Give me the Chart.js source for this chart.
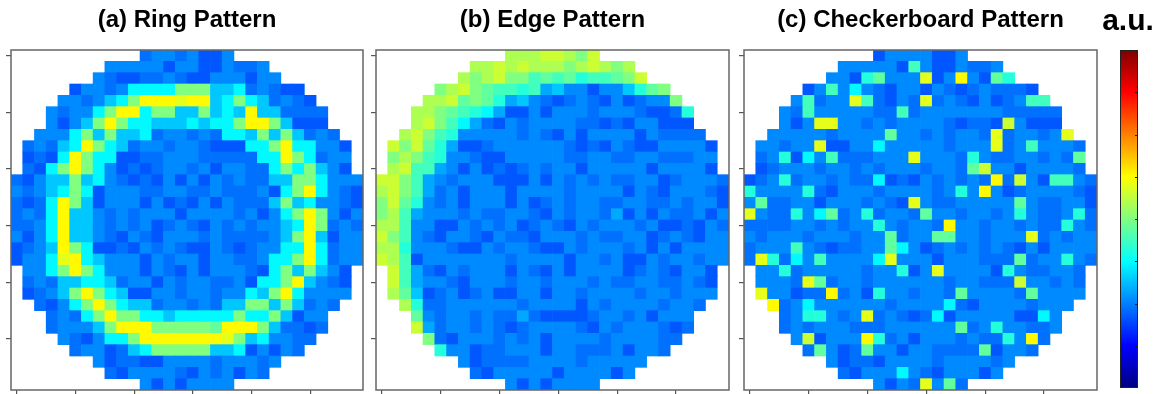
<!DOCTYPE html>
<html lang="en">
<head>
<meta charset="UTF-8">
<title>Wafer Map Patterns</title>
<script src="https://cdn.jsdelivr.net/npm/chart.js"></script>
<style>
  html, body { margin: 0; padding: 0; background: #fff; overflow: hidden; }
  #wrap { position: relative; width: 1162px; height: 394px; }
  #wrap canvas { position: absolute; top: 0; }
</style>
</head>
<body>
<div id="wrap">
  <canvas id="ring" width="364" height="396" style="left:5px"></canvas>
  <canvas id="edge" width="365" height="396" style="left:370px"></canvas>
  <canvas id="checker" width="365" height="396" style="left:738px"></canvas>
  <canvas id="cbar" width="62" height="396" style="left:1097px"></canvas>
</div>

<script>
  // value of each colour code used in the row strings ('.' = no die)
  const LEVELS = {
    '0': 0.21, '1': 0.235, '2': 0.26, '3': 0.29, '4': 0.32, '5': 0.37,
    'a': 0.41, 'b': 0.44, '6': 0.47, '7': 0.50, 'c': 0.545, 'd': 0.575,
    '8': 0.60, '9': 0.63
  };

  const PANEL_TITLES = ['(a) Ring Pattern', '(b) Edge Pattern', '(c) Checkerboard Pattern'];
  const TICK_VALUES = [1, 6, 11, 16, 21, 26];
  const CBAR_TICKS = [0.125, 0.25, 0.375, 0.5, 0.625, 0.75, 0.875];
  const CBAR_LABEL = 'a.u.';

  const RING_ROWS = [
    "...........12212002...........",
    "........22222022002112........",
    ".......2100112100222022.......",
    ".....02212555577744512100.....",
    "....2212457999899457541210....",
    "...212257995774474549441111...",
    "...202479755444545579974000...",
    "..22257474451221215547474121..",
    ".1214597541221221000557955220.",
    ".0105975500112221111155975122.",
    ".1057975201012212022115757420.",
    "102447452101020202121144775222",
    "212457502221122112111205795210",
    "101597402220201020211147452210",
    "121594421212220222212025797202",
    "112594421212012102121224597121",
    "202594421021022212111124794022",
    "012497500102121002101225595122",
    "022589542220212202211255795122",
    ".2257975222021020222105747420.",
    ".1214455412202122112055794210.",
    ".0124797540022122122547952222.",
    "..10257975441221214477474121..",
    "...121579775545555575574022...",
    "...122247999777776999741101...",
    "....2102557999999987452211....",
    ".....12201457777744502021.....",
    ".......2011002222122212.......",
    "........10222210212021........",
    "...........20202222..........."
  ];

  const EDGE_ROWS = [
    "...........cccddc7d...........",
    "........ccdcdccc7cdc7c........",
    ".......c7cd77b6b6abb67d.......",
    ".....7cd76bbab34220224a67.....",
    "....ccd676a342101210201227....",
    "...cc76ba53002022212221001a...",
    "...cd7b53102122221101022000...",
    "..cd7ba222221210202222021111..",
    ".d7d6a30012222221010210022220.",
    ".7c7ba22100222221122112211122.",
    ".cdbb320201012122022222022220.",
    "dd7b32122200020212121122012221",
    "cd7b31202220222212222021022210",
    "7d6a21202220201212211221121220",
    "7cb322212112210212213020211202",
    "ccb220021212012102122212001021",
    "d7b210221021102221211220121022",
    "cca222100212210021222120202222",
    "dcb022222221222202212002122122",
    ".db31021222021020222201210220.",
    ".db32210222122122212112211210.",
    ".c640120120022022122221221222.",
    "..ca112222221222202122221221..",
    "...621221211310000122120222...",
    "...d31221210122221021222101...",
    "....7102221212022221222211....",
    ".....a2201122202211120221.....",
    ".......2011112222122222.......",
    "........10222220222202........",
    "...........20202222..........."
  ];

  const CHECKER_ROWS = [
    "...........02222002...........",
    "........222220b2002112........",
    ".......220a62228029206a.......",
    ".....02b25210220210121110.....",
    "....2b1228b1021812102012bb....",
    "...21b2222211b1222222211111...",
    "...2028822121222210110d2000...",
    "..22222122226221212218122128..",
    ".22122800225222221222812b2221.",
    ".12a052b11122282221a211221216.",
    ".0122212212122212216d22022221.",
    "012a1221211501021212191d20bb21",
    "a2222a102221222212a29201222210",
    "261122022212108211222226211220",
    "8211a25612a122162212212a2112a1",
    "11112212122a212219221221211a21",
    "212221222122612266221222812122",
    "1222b2101122652012121210202222",
    "18a152b22225822202221116122a21",
    ".22a122222122a02822220a211221.",
    ".2221861221222222122111d22121.",
    ".8220119120a22122162222162222.",
    "..91252222221222251022221222..",
    "...12aa21281210150222220052...",
    "...121222111222222612a22112...",
    "....2d02229a1202221211a291....",
    ".....16201622022111160221.....",
    ".......2011022221222212.......",
    "........10222521022202........",
    "...........20218261..........."
  ];

  const FONT = "'Liberation Sans', Arial, sans-serif";

  function jet(v) {
    const c = t => Math.round(255 * Math.max(0, Math.min(1, t)));
    const r = c(1.5 - Math.abs(4 * v - 3));
    const g = c(1.5 - Math.abs(4 * v - 2));
    const b = c(1.5 - Math.abs(4 * v - 1));
    return `rgb(${r},${g},${b})`;
  }

  const framePlugin = {
    id: 'frame',
    afterDatasetsDraw(chart, args, opts) {
      const { ctx, chartArea: a } = chart;
      ctx.save();
      ctx.strokeStyle = opts.color;
      ctx.lineWidth = opts.width;
      ctx.strokeRect(a.left, a.top, a.right - a.left, a.bottom - a.top);
      ctx.restore();
    }
  };

  function waferChart(id, title, rows) {
    const points = [];
    const colors = [];
    rows.forEach((row, r) => {
      [...row].forEach((ch, c) => {
        if (ch === '.') return;
        points.push({ x: c + 1, y: [r + 0.5, r + 1.5] });
        colors.push(jet(LEVELS[ch]));
      });
    });

    const axis = (position, reverse) => ({
      type: 'linear',
      position: position,
      min: 0.5,
      max: 30.5,
      reverse: reverse,
      offset: false,
      afterBuildTicks: scale => { scale.ticks = TICK_VALUES.map(v => ({ value: v })); },
      ticks: { display: false },
      border: { display: false },
      grid: { offset: false, drawOnChartArea: false, drawTicks: true, tickLength: 5, color: '#555', lineWidth: 1.2 }
    });

    new Chart(document.getElementById(id), {
      type: 'bar',
      data: {
        datasets: [{
          data: points,
          backgroundColor: colors,
          borderWidth: 0,
          categoryPercentage: 1,
          barPercentage: 1
        }]
      },
      options: {
        responsive: false,
        animation: false,
        layout: { padding: { left: 1, right: 6, top: 0, bottom: 1 } },
        scales: {
          x: axis('bottom', false),
          y: axis('left', true)
        },
        plugins: {
          legend: { display: false },
          tooltip: { enabled: false },
          title: {
            display: true,
            text: title,
            fullSize: false,
            color: '#000',
            font: { family: FONT, size: 24, weight: 'bold', lineHeight: 1 },
            padding: { top: 8, bottom: 18 }
          },
          frame: { color: '#666', width: 1.5 }
        }
      },
      plugins: [framePlugin]
    });
  }

  waferChart('ring', PANEL_TITLES[0], RING_ROWS);
  waferChart('edge', PANEL_TITLES[1], EDGE_ROWS);
  waferChart('checker', PANEL_TITLES[2], CHECKER_ROWS);

  // colour bar
  const cbarTicks = {
    id: 'cbarTicks',
    afterDatasetsDraw(chart) {
      const { ctx, chartArea: a, scales } = chart;
      ctx.save();
      ctx.strokeStyle = '#222';
      ctx.lineWidth = 1;
      CBAR_TICKS.forEach(v => {
        const y = Math.round(scales.y.getPixelForValue(v)) + 0.5;
        ctx.beginPath();
        ctx.moveTo(a.right - 3, y);
        ctx.lineTo(a.right, y);
        ctx.stroke();
      });
      ctx.strokeRect(a.left + 0.5, a.top + 0.5, a.right - a.left - 1, a.bottom - a.top - 1);
      ctx.restore();
    }
  };

  const spacer = (position, size) => ({
    position: position,
    min: 0,
    max: 1,
    ticks: { display: false },
    grid: { display: false },
    border: { display: false },
    afterFit: scale => { scale.width = size; }
  });

  new Chart(document.getElementById('cbar'), {
    type: 'bar',
    data: {
      labels: [''],
      datasets: [{
        data: [[0, 1]],
        borderWidth: 0,
        categoryPercentage: 1,
        barPercentage: 1,
        backgroundColor: ctx => {
          const a = ctx.chart.chartArea;
          if (!a) return null;
          const grad = ctx.chart.ctx.createLinearGradient(0, a.bottom, 0, a.top);
          for (let i = 0; i <= 32; i++) grad.addColorStop(i / 32, jet(i / 32));
          return grad;
        }
      }]
    },
    options: {
      responsive: false,
      animation: false,
      layout: { padding: { left: 0, right: 0, top: 0, bottom: 8 } },
      scales: {
        x: { display: false },
        y: spacer('left', 23),
        y2: spacer('right', 21)
      },
      plugins: {
        legend: { display: false },
        tooltip: { enabled: false },
        title: {
          display: true,
          text: CBAR_LABEL,
          color: '#000',
          font: { family: FONT, size: 30, weight: 'bold', lineHeight: 1 },
          padding: { top: 7, bottom: 13 }
        }
      }
    },
    plugins: [cbarTicks]
  });
</script>
</body>
</html>
